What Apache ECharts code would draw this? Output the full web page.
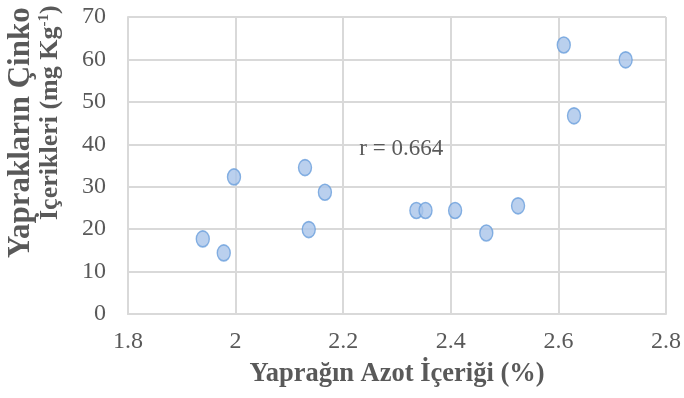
<!DOCTYPE html>
<html>
<head>
<meta charset="utf-8">
<script src="https://cdn.jsdelivr.net/npm/echarts@6/dist/echarts.min.js"></script>
<style>
html,body{margin:0;padding:0;background:#fff;}
#c{width:684px;height:398px;}
</style>
</head>
<body>
<div id="c"></div>
<script>
// Data
var xValues = [1.939, 1.978, 1.997, 2.129, 2.136, 2.166, 2.336, 2.353, 2.408, 2.466, 2.525, 2.610, 2.629, 2.725];
var yValues = [17.7, 14.4, 32.3, 34.5, 19.9, 28.7, 24.4, 24.4, 24.4, 19.1, 25.5, 63.4, 46.7, 59.9];
var xTicks = [1.8, 2, 2.2, 2.4, 2.6, 2.8];
var yTicks = [0, 10, 20, 30, 40, 50, 60, 70];
var xTitle = 'Yaprağın Azot İçeriği (%)';
var yTitleLine1 = 'Yaprakların Çinko';
var yTitleLine2 = 'İçerikleri (mg Kg';
var yTitleSup = '-1';
var annotationText = 'r = 0.664';
var annotationPos = [2.308, 38.9];

var points = xValues.map(function (x, i) { return [x, yValues[i]]; });

var serif = '"Liberation Serif", "Times New Roman", serif';
var textColor = '#595959';
var gridColor = '#d9d9d9';

var chart = echarts.init(document.getElementById('c'), null, {renderer: 'canvas'});
chart.setOption({
  animation: false,
  backgroundColor: '#ffffff',
  grid: {left: 128, right: 11, top: 17, bottom: 84, containLabel: false},
  xAxis: {
    type: 'value',
    min: xTicks[0],
    max: xTicks[xTicks.length - 1],
    interval: 0.2,
    axisLine: {show: true, lineStyle: {color: gridColor, width: 2}},
    axisTick: {show: false},
    splitLine: {show: true, lineStyle: {color: gridColor, width: 2}},
    axisLabel: {
      color: textColor, fontFamily: serif, fontSize: 24, margin: 16,
      formatter: function (v) { return String(Math.round(v * 10) / 10); }
    },
    name: xTitle,
    nameLocation: 'middle',
    nameGap: 47,
    nameTextStyle: {color: textColor, fontFamily: serif, fontSize: 26.5, fontWeight: 'bold'}
  },
  yAxis: {
    type: 'value',
    min: yTicks[0],
    max: yTicks[yTicks.length - 1],
    interval: 10,
    axisLine: {show: true, lineStyle: {color: gridColor, width: 2}},
    axisTick: {show: false},
    splitLine: {show: true, lineStyle: {color: gridColor, width: 2}},
    axisLabel: {color: textColor, fontFamily: serif, fontSize: 24, margin: 22, padding: [0, 0, 8, 0]}
  },
  graphic: [
    {
      type: 'text', x: 21, y: 258, rotation: Math.PI / 2,
      style: {
        text: yTitleLine1, fill: textColor, fontFamily: serif, fontSize: 31, fontWeight: 'bold',
        align: 'left', verticalAlign: 'middle'
      }
    },
    {
      type: 'text', x: 50, y: 220, rotation: Math.PI / 2,
      style: {
        text: yTitleLine2 + '{sup|' + yTitleSup + '}' + ')',
        fill: textColor, fontFamily: serif, fontSize: 26, fontWeight: 'bold',
        align: 'left', verticalAlign: 'middle',
        rich: {
          sup: {fontSize: 15, fontWeight: 'bold', fontFamily: serif, fill: textColor, verticalAlign: 'top', lineHeight: 26}
        }
      }
    }
  ],
  series: [{
    type: 'scatter',
    data: points,
    symbol: 'circle',
    symbolSize: [13, 16],
    itemStyle: {color: '#a9c4ea', borderColor: '#6a9fdc', borderWidth: 1.5},
    markPoint: {
      symbol: 'circle',
      symbolSize: 0,
      data: [{coord: annotationPos, value: annotationText}],
      label: {show: true, formatter: annotationText, color: textColor, fontFamily: serif, fontSize: 23}
    }
  }]
});
</script>
</body>
</html>
